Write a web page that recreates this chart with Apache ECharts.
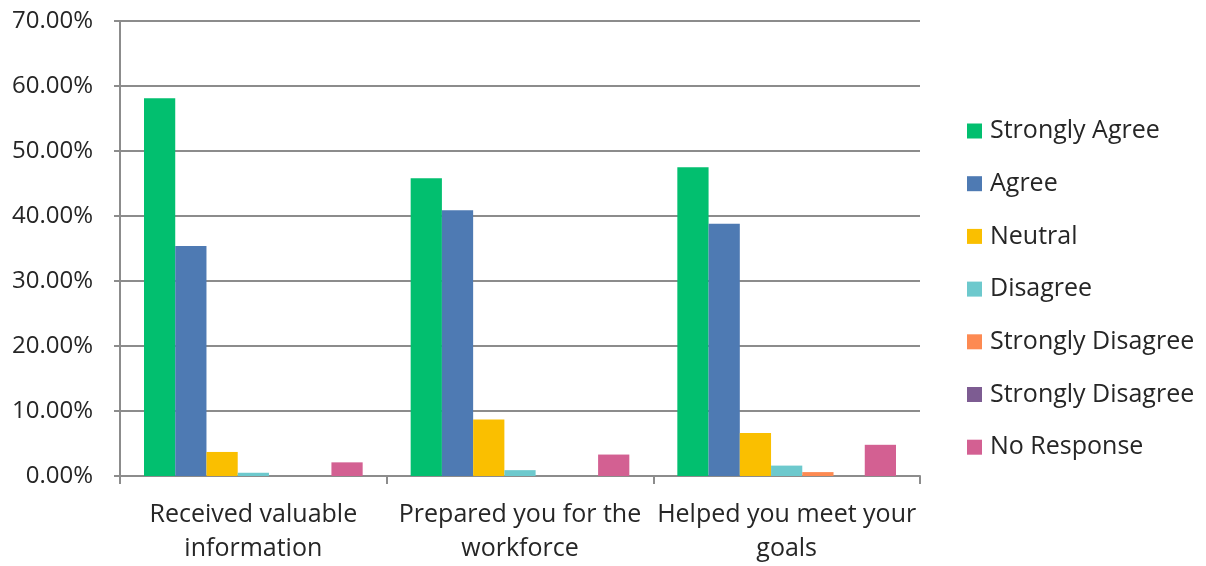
<!DOCTYPE html>
<html>
<head>
<meta charset="utf-8">
<script src="https://cdn.jsdelivr.net/npm/echarts@6/dist/echarts.min.js"></script>
<style>
  html, body { margin: 0; padding: 0; background: #fff; }
  #main { width: 1206px; height: 566px; }
</style>
</head>
<body>
<div id="main"></div>
<script>
// categories on the x axis
var categories = ['Received valuable\ninformation', 'Prepared you for the\nworkforce', 'Helped you meet your\ngoals'];

// percentages
var stronglyAgree = [58.1, 45.8, 47.5];
var agree = [35.4, 40.9, 38.8];
var neutral = [3.7, 8.7, 6.6];
var disagree = [0.5, 0.9, 1.6];
var stronglyDisagree = [0, 0, 0.6];
var stronglyDisagree2 = [0, 0, 0];
var noResponse = [2.1, 3.3, 4.8];

var yTicks = [0, 10, 20, 30, 40, 50, 60, 70];

var seriesList = [
  { name: 'Strongly Agree', data: stronglyAgree, color: '#02BF6F' },
  { name: 'Agree', data: agree, color: '#4E7AB3' },
  { name: 'Neutral', data: neutral, color: '#FABF00' },
  { name: 'Disagree', data: disagree, color: '#6DC9CD' },
  { name: 'Strongly Disagree', data: stronglyDisagree, color: '#FD8A52' },
  { name: 'Strongly Disagree (2)', data: stronglyDisagree2, color: '#7D5C92' },
  { name: 'No Response', data: noResponse, color: '#D36092' }
];

var font = 'Open Sans';
var grey = '#8C8C8C';
var txt = '#262626';

var myChart = echarts.init(document.getElementById('main'));
myChart.setOption({
  animation: false,
  grid: { left: 120, right: 286, top: 21, bottom: 90 },
  legend: {
    orient: 'vertical',
    left: 962,
    top: 112,
    icon: 'rect',
    itemWidth: 15,
    itemHeight: 15,
    itemGap: 24.7,
    data: seriesList.map(function (s) { return s.name; }),
    // the second "Strongly Disagree" series gets a tag only to keep names unique
    formatter: function (name) { return name.replace(' (2)', ''); },
    textStyle: { fontFamily: font, fontSize: 25, color: txt, lineHeight: 28, padding: [0, 0, 0, 3] }
  },
  xAxis: {
    type: 'category',
    data: categories,
    axisLine: { lineStyle: { color: grey, width: 2 } },
    axisTick: { show: true, interval: 0, length: 8, lineStyle: { color: grey, width: 2 } },
    axisLabel: { interval: 0, fontFamily: font, fontSize: 25, color: txt, lineHeight: 34, margin: 22 }
  },
  yAxis: {
    type: 'value',
    min: yTicks[0],
    max: yTicks[yTicks.length - 1],
    interval: 10,
    axisLine: { show: true, lineStyle: { color: grey, width: 2 } },
    axisTick: { show: true, length: 6, lineStyle: { color: grey, width: 2 } },
    splitLine: { lineStyle: { color: grey, width: 2 } },
    axisLabel: {
      fontFamily: font, fontSize: 24, color: txt, margin: 27,
      formatter: function (v) { return v.toFixed(2) + '%'; }
    }
  },
  series: seriesList.map(function (s) {
    return {
      name: s.name,
      type: 'bar',
      data: s.data,
      barGap: '0%',
      barCategoryGap: '18%',
      itemStyle: { color: s.color }
    };
  })
});
</script>
</body>
</html>
